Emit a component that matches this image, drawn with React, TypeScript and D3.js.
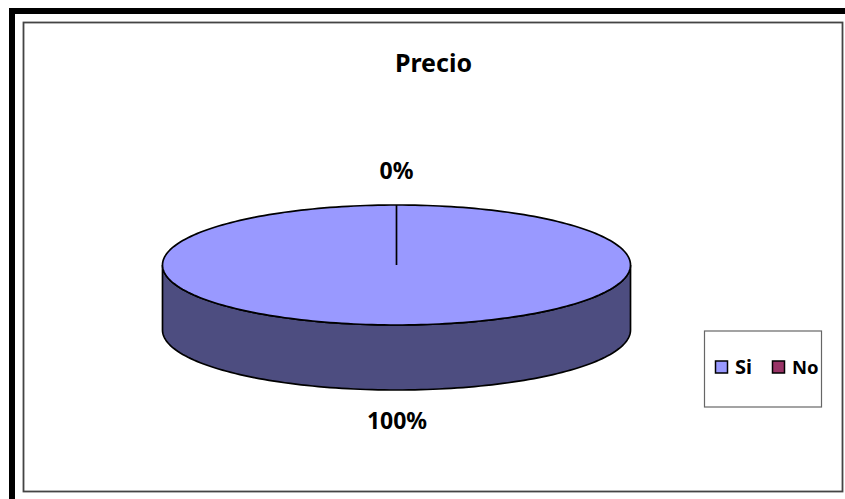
import React from "react";
import * as d3 from "d3";

const title = "Precio";
const categories = ["Si", "No"];
const values = [100, 0];
const sliceColors = ["#9999ff", "#993366"];
const sideColors = ["#4d4d80", "#4d1a33"];
const valueLabels = ["100%", "0%"];

const FONT = "'Comic Sans MS', 'Noto Sans', 'DejaVu Sans', sans-serif";

export default function App() {
  const cx = 396.5, cy = 265, rx = 234, ry = 60, depth = 65;
  const x = d3.scaleLinear().domain([-1, 1]).range([cx - rx, cx + rx]);
  const y = d3.scaleLinear().domain([-1, 1]).range([cy - ry, cy + ry]);
  const slices = d3.pie<number>().sort(null)(values);
  const pt = (a: number) => {
    const [px, py] = d3.pointRadial(a, 1);
    return [x(px), y(py)] as [number, number];
  };
  const line = d3.line();
  const top = slices.filter((s) => s.endAngle > s.startAngle).map((s) => {
    const n = 240;
    const pts = d3.range(n + 1).map((i) => pt(s.startAngle + ((s.endAngle - s.startAngle) * i) / n));
    return { d: line(pts) + "Z", i: s.index };
  });
  const frontAngles = d3.range(0, 121).map((i) => Math.PI / 2 + (Math.PI * i) / 120);
  const frontTop = frontAngles.map(pt);
  const frontBottom = frontTop.map(([a, b]) => [a, b + depth] as [number, number]).reverse();
  const sideD = line([...frontTop, ...frontBottom]) + "Z";
  const boundary = pt(slices[1].startAngle);

  return (
    <svg width={845} height={499} style={{ position: "absolute", left: 0, top: 0, background: "#fff" }} fontFamily={FONT} fontWeight={700} fill="#000">
      <rect x={12} y={11} width={860} height={520} fill="none" stroke="#000" strokeWidth={6} />
      <rect x={23.5} y={22.5} width={819} height={469} fill="#fff" stroke="#444" strokeWidth={1.8} />
      <text x={433.5} y={72} textAnchor="middle" fontSize={25}>{title}</text>
      <path d={sideD} fill={sideColors[0]} stroke="#000" strokeWidth={1.7} />
      {top.map((t) => (
        <path key={t.i} d={t.d} fill={sliceColors[t.i]} stroke="#000" strokeWidth={1.7} />
      ))}
      <line x1={boundary[0]} y1={boundary[1]} x2={cx} y2={cy} stroke="#000" strokeWidth={1.7} />
      <text x={396.5} y={179} textAnchor="middle" fontSize={23}>{valueLabels[1]}</text>
      <text x={397} y={429} textAnchor="middle" fontSize={23}>{valueLabels[0]}</text>
      <rect x={704.5} y={331} width={117} height={76} fill="#fff" stroke="#666" strokeWidth={1.2} />
      {categories.map((c, i) => {
        const sx = [715.5, 772.5][i];
        return (
          <g key={c}>
            <rect x={sx} y={361} width={12} height={12} fill={sliceColors[i]} stroke="#000" strokeWidth={1.5} />
            <text x={[735, 792][i]} y={374} fontSize={[20, 18.5][i]}>{c}</text>
          </g>
        );
      })}
    </svg>
  );
}
